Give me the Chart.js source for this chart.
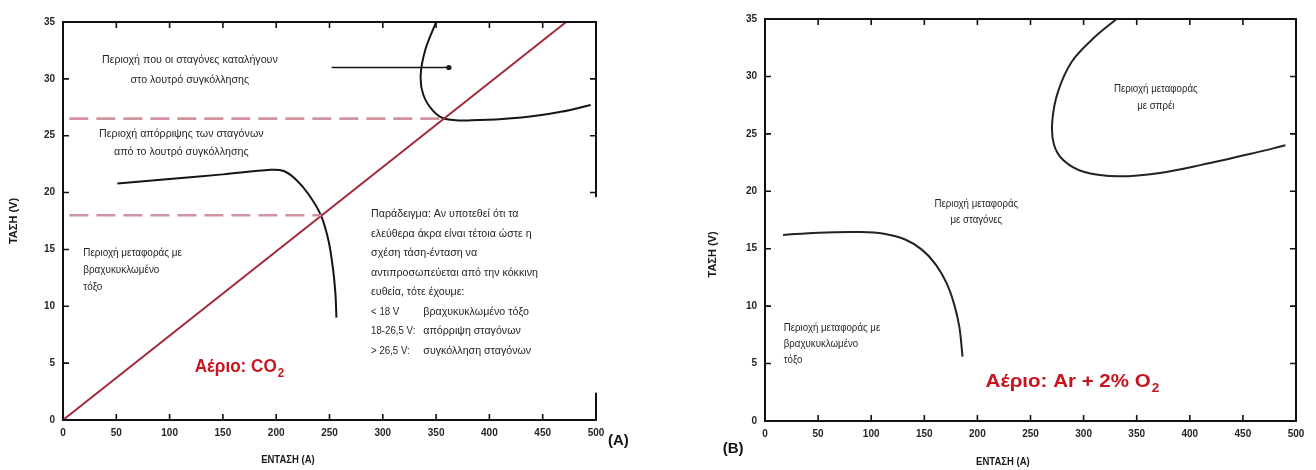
<!DOCTYPE html>
<html><head><meta charset="utf-8">
<script src="https://cdn.jsdelivr.net/npm/chart.js@4.4.1/dist/chart.umd.min.js"></script>
<style>
html,body{margin:0;padding:0;background:#fff;width:1316px;height:470px;overflow:hidden}
#ca{position:absolute;left:0;top:0}
#cb{position:absolute;left:660px;top:0}
</style></head><body>
<canvas id="ca" width="660" height="470"></canvas>
<canvas id="cb" width="656" height="470"></canvas>
<script>
// ---------- tick labels ----------
const currentTicks = [0, 50, 100, 150, 200, 250, 300, 350, 400, 450, 500];
const voltageTicks = [0, 5, 10, 15, 20, 25, 30, 35];

// ---------- Panel A (CO2) ----------
const redLineCurrent = [0, 472];
const redLineVoltage = [0, 35];
const dashHighCurrent = [6, 357.5];
const dashHighVoltage = [26.5, 26.5];
const dashLowCurrent = [6, 242];
const dashLowVoltage = [18, 18];
const upperACurrent = [350, 340, 335.5, 338, 347, 358, 383, 430, 467, 495];
const upperAVoltage = [35, 32.6, 30.3, 28.6, 27.2, 26.5, 26.35, 26.6, 27.1, 27.7];
const lowerACurrent = [51, 100, 150, 195, 207, 218, 230, 242, 249, 253, 255.5, 256.5];
const lowerAVoltage = [20.8, 21.2, 21.6, 22.0, 21.9, 21.2, 19.9, 18.0, 15.8, 13.5, 11.2, 9.0];
const arrowCurrent = [252, 362];
const arrowVoltage = [31.0, 31.0];

// ---------- Panel B (Ar + 2% O2) ----------
const upperBCurrent = [331, 309, 289, 276, 270.5, 272, 281, 300, 333, 372, 411, 459, 490];
const upperBVoltage = [35, 33.3, 31.3, 28.7, 26.1, 24.1, 22.7, 21.7, 21.3, 21.6, 22.3, 23.3, 24.0];
const lowerBCurrent = [17, 50, 90, 112, 132, 148, 161, 171, 178, 183, 186];
const lowerBVoltage = [16.2, 16.4, 16.45, 16.3, 15.8, 14.9, 13.6, 12.0, 10.2, 8.2, 5.6];

const pts = (xs, ys) => xs.map((x, i) => ({x, y: ys[i]}));

// ---------- annotation text ----------
const notesA = [
  {a: 119, v: [31.66, 29.9], align: 'center', lines: ['Περιοχή που οι σταγόνες καταλήγουν', 'στο λουτρό συγκόλλησης']},
  {a: 111, v: [25.15, 23.57], align: 'center', lines: ['Περιοχή απόρριψης των σταγόνων', 'από το λουτρό συγκόλλησης']},
  {a: 19, v: [14.69, 13.19, 11.7], align: 'left', stretch: 0.9, lines: ['Περιοχή μεταφοράς με', 'βραχυκυκλωμένο', 'τόξο']},
  {a: 289, v: [18.12, 16.40, 14.69, 12.97, 11.26], align: 'left', lines: ['Παράδειγμα: Αν υποτεθεί ότι τα', 'ελεύθερα άκρα είναι τέτοια ώστε η', 'σχέση τάση-ένταση να', 'αντιπροσωπεύεται από την κόκκινη', 'ευθεία, τότε έχουμε:']},
  {a: 289, v: [9.54, 7.83, 6.11], align: 'left', stretch: 0.88, lines: ['< 18 V', '18-26,5 V:', '> 26,5 V:']},
  {a: 338, v: [9.54, 7.83, 6.11], align: 'left', lines: ['βραχυκυκλωμένο τόξο', 'απόρριψη σταγόνων', 'συγκόλληση σταγόνων']}
];
const notesB = [
  {a: 368, v: [28.9, 27.4], align: 'center', lines: ['Περιοχή μεταφοράς', 'με σπρέι']},
  {a: 199, v: [18.9, 17.5], align: 'center', lines: ['Περιοχή μεταφοράς', 'με σταγόνες']},
  {a: 17.7, v: [8.1, 6.7, 5.3], align: 'left', lines: ['Περιοχή μεταφοράς με', 'βραχυκυκλωμένο', 'τόξο']}
];

const TXT = '#262626';
const CURVE = '#151515';

function textPlugin(cfg) {
  return {
    id: 'decor',
    afterDraw(chart) {
      const ctx = chart.ctx;
      const {left, right, top, bottom} = chart.chartArea;
      const xs = chart.scales.x, ys = chart.scales.y;
      const X = v => xs.getPixelForValue(v), Y = v => ys.getPixelForValue(v);
      ctx.save();
      // frame
      ctx.strokeStyle = '#111';
      ctx.lineWidth = 2;
      ctx.strokeRect(left, top, right - left, bottom - top);
      // inward ticks
      ctx.lineWidth = 1.6;
      const tl = 6;
      ctx.beginPath();
      currentTicks.forEach(t => {
        if (t <= xs.min || t >= xs.max) return;
        const p = X(t);
        ctx.moveTo(p, bottom); ctx.lineTo(p, bottom - tl);
        ctx.moveTo(p, top); ctx.lineTo(p, top + tl);
      });
      voltageTicks.forEach(t => {
        if (t <= ys.min || t >= ys.max) return;
        const p = Y(t);
        ctx.moveTo(left, p); ctx.lineTo(left + tl, p);
        ctx.moveTo(right, p); ctx.lineTo(right - tl, p);
      });
      ctx.stroke();
      // white boxes behind text block
      (cfg.boxes || []).forEach(b => {
        ctx.fillStyle = '#fff';
        ctx.fillRect(X(b.a0), Y(b.v1), X(b.a1) - X(b.a0), Y(b.v0) - Y(b.v1));
      });
      // notes
      ctx.fillStyle = TXT;
      ctx.textBaseline = 'middle';
      cfg.notes.forEach(n => {
        ctx.font = cfg.noteFont;
        const s = n.stretch || cfg.stretch;
        n.lines.forEach((ln, i) => {
          ctx.save();
          ctx.translate(X(n.a), Y(n.v[i]));
          ctx.scale(s, 1);
          ctx.textAlign = n.align;
          ctx.fillText(ln, 0, 0);
          ctx.restore();
        });
      });
      // gas label
      const g = cfg.gas;
      const bigF = 'bold 18px "Liberation Sans", Arial, sans-serif';
      const subF = 'bold 12px "Liberation Sans", Arial, sans-serif';
      ctx.fillStyle = '#c8141f';
      ctx.font = bigF;
      const w1 = ctx.measureText(g.main).width * g.stretch;
      ctx.font = subF;
      const w2 = ctx.measureText(g.sub).width * g.stretch;
      const gx = X(g.a) - (w1 + w2) / 2;
      const gy = Y(g.v);
      ctx.textAlign = 'left';
      ctx.save(); ctx.translate(gx, gy); ctx.scale(g.stretch, 1);
      ctx.font = bigF; ctx.fillText(g.main, 0, 0);
      ctx.restore();
      ctx.save(); ctx.translate(gx + w1 + 1, gy + 7); ctx.scale(g.stretch, 1);
      ctx.font = subF; ctx.fillText(g.sub, 0, 0);
      ctx.restore();
      // axis titles and panel letter
      ctx.fillStyle = '#1a1a1a';
      ctx.font = 'bold 10px "Liberation Sans", Arial, sans-serif';
      ctx.textAlign = 'center';
      ctx.save(); ctx.translate(X(cfg.xTitle.a), Y(cfg.xTitle.v)); ctx.scale(0.95, 1);
      ctx.fillText('ΕΝΤΑΣΗ (A)', 0, 0); ctx.restore();
      ctx.save(); ctx.translate(X(cfg.yTitle.a), Y(cfg.yTitle.v)); ctx.rotate(-Math.PI / 2); ctx.scale(1.1, 1);
      ctx.fillText('ΤΑΣΗ (V)', 0, 0); ctx.restore();
      ctx.font = 'bold 15px "Liberation Sans", Arial, sans-serif';
      ctx.fillStyle = '#111';
      ctx.fillText(cfg.letter.t, X(cfg.letter.a), Y(cfg.letter.v));
      ctx.restore();
    }
  };
}

function scaleOpts(min, max, ticksArr, fixed, isX) {
  return {
    type: 'linear', min, max,
    grid: {display: false, drawTicks: false},
    border: {display: false},
    afterBuildTicks: s => { s.ticks = ticksArr.map(v => ({value: v})); },
    afterFit: s => { if (isX) s.height = fixed; else s.width = fixed; },
    ticks: {
      color: '#262626', padding: isX ? 7 : 8,
      font: {family: '"Liberation Sans", Arial, sans-serif', size: 10, weight: 'bold'},
      maxRotation: 0, autoSkip: false
    }
  };
}

function curve(data, color, width, extra) {
  return Object.assign({data, borderColor: color, borderWidth: width, pointRadius: 0, tension: 0.35, fill: false}, extra || {});
}

function makeChart(id, datasets, padding, cfg) {
  return new Chart(document.getElementById(id), {
    type: 'line',
    data: {datasets},
    options: {
      responsive: false, animation: false, devicePixelRatio: 1,
      layout: {padding},
      plugins: {legend: {display: false}, tooltip: {enabled: false}, title: {display: false}},
      scales: {
        x: scaleOpts(0, 500, currentTicks, 30, true),
        y: scaleOpts(0, 35, voltageTicks, 40, false)
      }
    },
    plugins: [textPlugin(cfg)]
  });
}

makeChart('ca', [
  curve(pts(dashHighCurrent, dashHighVoltage), '#cf94a0', 2.6, {borderDash: [19, 8], tension: 0}),
  curve(pts(dashLowCurrent, dashLowVoltage), '#cf94a0', 2.6, {borderDash: [19, 8], tension: 0}),
  curve(pts(redLineCurrent, redLineVoltage), '#a12a3c', 2, {tension: 0}),
  curve(pts(upperACurrent, upperAVoltage), CURVE, 2),
  curve(pts(lowerACurrent, lowerAVoltage), CURVE, 2),
  curve(pts(arrowCurrent, arrowVoltage), CURVE, 1.6, {tension: 0, pointRadius: [0, 2.6], pointBackgroundColor: CURVE, pointBorderWidth: 0})
], {left: 23, right: 64, top: 22, bottom: 20}, {
  notes: notesA, noteFont: '11px "Liberation Sans", Arial, sans-serif', stretch: 0.97,
  boxes: [{a0: 286, a1: 545, v0: 2.4, v1: 19.6}],
  gas: {a: 165, v: 4.66, main: 'Αέριο: CO', sub: '2', stretch: 0.95},
  xTitle: {a: 211, v: -3.5}, yTitle: {a: -46, v: 17.5},
  letter: {t: '(A)', a: 521, v: -1.85}
});

makeChart('cb', [
  curve(pts(upperBCurrent, upperBVoltage), '#222', 2),
  curve(pts(lowerBCurrent, lowerBVoltage), '#222', 2)
], {left: 65, right: 20, top: 19, bottom: 19}, {
  notes: notesB, noteFont: '11px "Liberation Sans", Arial, sans-serif', stretch: 0.88,
  boxes: [],
  gas: {a: 289, v: 3.4, main: 'Αέριο: Ar + 2% O', sub: '2', stretch: 1.14},
  xTitle: {a: 224, v: -3.6}, yTitle: {a: -49, v: 14.5},
  letter: {t: '(B)', a: -30, v: -2.4}
});
</script>
</body></html>
